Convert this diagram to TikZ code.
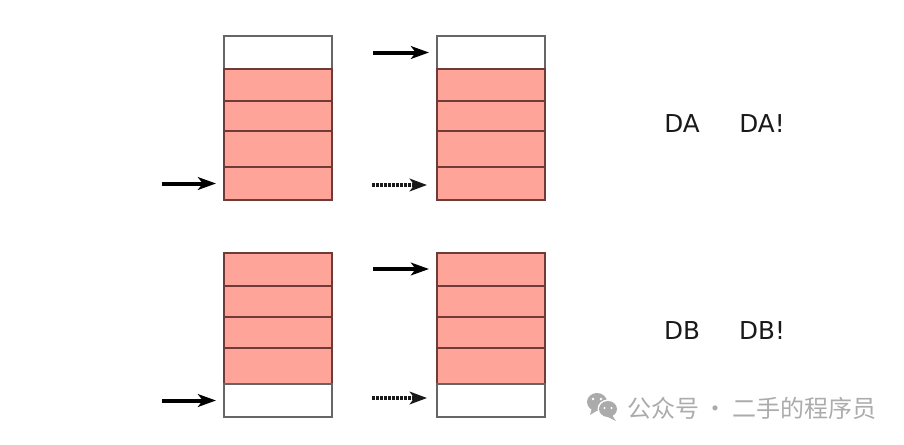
\documentclass[tikz,border=0pt]{standalone}
\usepackage{fontspec}
\setmainfont{DejaVu Sans}
\newfontfamily\cjk{Noto Sans CJK SC}
\usetikzlibrary{arrows.meta}
\definecolor{cellred}{HTML}{FFA499}
\definecolor{cellline}{HTML}{6E3B38}
\definecolor{wmgray}{HTML}{ABABAB}
\tikzset{
  cellbox/.style={draw=cellline,line width=0.85pt,anchor=north west,minimum width=81pt,inner sep=0pt,outer sep=0pt},
  full/.style={cellbox,fill=cellred},
  empty/.style={cellbox,draw=black!60,fill=white},
  solidarrow/.style={line width=3pt,black,-{Stealth[length=13.5pt,width=9.5pt,inset=3.5pt]},shorten >=6pt},
  dotarrow/.style={line width=3pt,black!90,dash pattern=on 2pt off 1pt,-{Stealth[length=13pt,width=9.5pt,inset=3.5pt,sep=0pt]},shorten >=7.5pt},
  lab/.style={font=\fontsize{18.5pt}{20pt}\selectfont,text=black!90,inner sep=0pt},
  wm/.style={font=\cjk\fontsize{18pt}{20pt}\selectfont,text=wmgray,inner sep=0pt,anchor=west}
}
\begin{document}
\begin{tikzpicture}[x=0.75pt,y=-0.75pt]
\useasboundingbox (0,0) rectangle (904,444);
% top left
\node[empty,minimum height=24.75pt] (a1) at (224,36) {};
\node[full,minimum height=24pt]    (a2) at (224,69) {};
\node[full,minimum height=22.5pt]  (a3) at (224,101) {};
\node[full,minimum height=27pt]    (a4) at (224,131) {};
\node[full,minimum height=24.75pt] (a5) at (224,167) {};
% top right
\node[empty,minimum height=24.75pt] (b1) at (437,36) {};
\node[full,minimum height=24pt]    (b2) at (437,69) {};
\node[full,minimum height=22.5pt]  (b3) at (437,101) {};
\node[full,minimum height=27pt]    (b4) at (437,131) {};
\node[full,minimum height=24.75pt] (b5) at (437,167) {};
% bottom left
\node[full,minimum height=24.75pt] (c1) at (224,253) {};
\node[full,minimum height=23.25pt] (c2) at (224,286) {};
\node[full,minimum height=23.25pt] (c3) at (224,317) {};
\node[full,minimum height=27pt]    (c4) at (224,348) {};
\node[empty,minimum height=24.75pt] (c5) at (224,384) {};
% bottom right
\node[full,minimum height=24.75pt] (d1) at (437,253) {};
\node[full,minimum height=23.25pt] (d2) at (437,286) {};
\node[full,minimum height=23.25pt] (d3) at (437,317) {};
\node[full,minimum height=27pt]    (d4) at (437,348) {};
\node[empty,minimum height=24.75pt] (d5) at (437,384) {};
% arrow tails
\coordinate (ta) at (162,183.5);
\coordinate (tb) at (373,52.5);
\coordinate (tbd) at (372,185);
\coordinate (tc) at (162,400.5);
\coordinate (td) at (373,269);
\coordinate (tdd) at (372,398);
\draw[solidarrow] (ta) -- (a5.west);
\draw[solidarrow] (tb) -- (b1.west);
\draw[dotarrow] (tbd) -- (tbd -| b5.west);
\draw[solidarrow] (tc) -- (c5.west);
\draw[solidarrow] (td) -- (td -| d1.west);
\draw[dotarrow] (tdd) -- (tdd -| d5.west);
% labels
\node[lab] (da) at (682,124) {DA};
\node[lab] (dab) at (762,124) {DA!};
\node[lab] (db) at (682,331) {DB};
\node[lab] (dbb) at (762,331) {DB!};
% watermark
\fill[wmgray] (597,402) ellipse [x radius=10,y radius=9];
\fill[wmgray] (592,408) -- (590,415) -- (598,410) -- cycle;
\fill[white] (608,409) ellipse [x radius=10.5,y radius=9.5];
\fill[wmgray] (608,409) ellipse [x radius=9,y radius=8];
\fill[wmgray] (612,415) -- (616,421) -- (606,416) -- cycle;
\fill[white] (593,399) circle (1.4) (601,399) circle (1.4) (604.5,408) circle (1.2) (611.5,408) circle (1.2);
\node[wm] (w) at (627,408.5) {公众号\,·\,\kern1pt 二手的程序员};
\end{tikzpicture}
\end{document}
